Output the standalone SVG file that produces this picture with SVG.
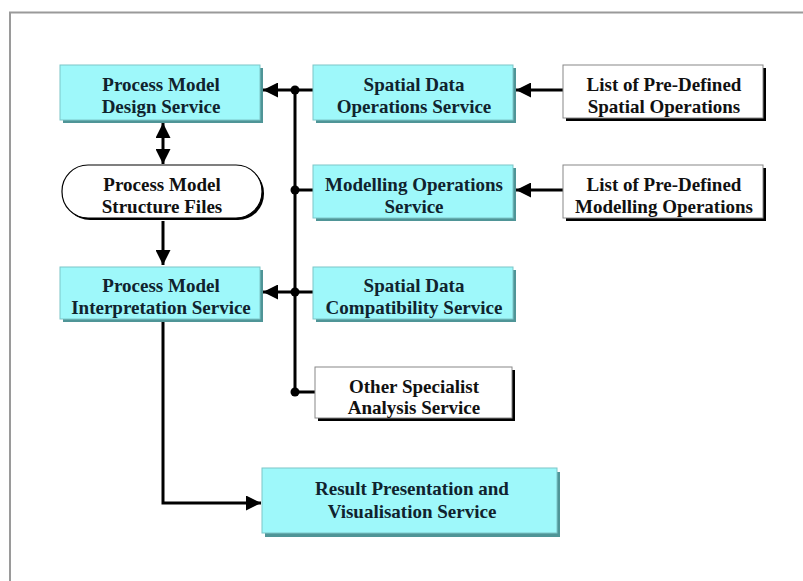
<svg xmlns="http://www.w3.org/2000/svg" width="803" height="581" viewBox="0 0 803 581">
  <defs>
    <marker id="arr" viewBox="0 0 10 10" refX="10" refY="5" markerWidth="5" markerHeight="5" orient="auto-start-reverse" markerUnits="strokeWidth">
      <path d="M0,0 L10,5 L0,10 Z" fill="#000"/>
    </marker>
  </defs>
  <style>
    .txt { font-family: "Liberation Serif", "Times New Roman", serif; font-weight: bold; font-size: 19px; text-anchor: middle; }
    .ctxt { fill: #10232e; }
    .wtxt { fill: #111; }
    .cbox { fill: #9ef8fa; stroke: #7cc6c8; stroke-width: 1; }
    .cshadow { fill: #4f9597; }
    .wbox { fill: #fff; stroke: #888; stroke-width: 1; }
    .wshadow { fill: #000; }
    .line { fill: none; stroke: #000; stroke-width: 3; }
    .dot { fill: #000; }
  </style>
  <rect x="0" y="0" width="803" height="581" fill="#fff"/>
  <path d="M10,581 L10,12.5 L803,12.5" fill="none" stroke="#9a9a9a" stroke-width="2"/>

  <g id="connectors">
    <line class="line" x1="295" y1="90" x2="295" y2="392"/>
    <line class="line" x1="313" y1="90" x2="263" y2="90" marker-end="url(#arr)"/>
    <circle class="dot" cx="295" cy="90" r="4.5"/>
    <line class="line" x1="313" y1="190" x2="295" y2="190"/>
    <circle class="dot" cx="295" cy="190" r="4.5"/>
    <line class="line" x1="313" y1="292" x2="263" y2="292" marker-end="url(#arr)"/>
    <circle class="dot" cx="295" cy="292" r="4.5"/>
    <line class="line" x1="315" y1="392" x2="295" y2="392"/>
    <circle class="dot" cx="295" cy="392" r="4.5"/>
    <line class="line" x1="163" y1="123" x2="163" y2="164" marker-start="url(#arr)" marker-end="url(#arr)"/>
    <line class="line" x1="163" y1="221" x2="163" y2="265" marker-end="url(#arr)"/>
    <polyline class="line" points="163,321 163,503 261,503" marker-end="url(#arr)"/>
    <line class="line" x1="563" y1="90" x2="516" y2="90" marker-end="url(#arr)"/>
    <line class="line" x1="563" y1="190" x2="516" y2="190" marker-end="url(#arr)"/>
  </g>

  <g id="design">
    <rect class="cshadow" x="63" y="68" width="200" height="55"/>
    <rect class="cbox" x="60" y="65" width="200" height="55"/>
    <text class="txt ctxt" x="161" y="91">Process Model</text>
    <text class="txt ctxt" x="161" y="113">Design Service</text>
  </g>

  <g id="structure">
    <rect x="64" y="167" width="200" height="53" rx="26" ry="26" fill="#000"/>
    <rect x="62" y="165" width="200" height="53" rx="26" ry="26" fill="#fff" stroke="#000" stroke-width="1.2"/>
    <text class="txt wtxt" x="162" y="191">Process Model</text>
    <text class="txt wtxt" x="162" y="213">Structure Files</text>
  </g>

  <g id="interpretation">
    <rect class="cshadow" x="63" y="270" width="200" height="52"/>
    <rect class="cbox" x="60" y="267" width="200" height="52"/>
    <text class="txt ctxt" x="161" y="292">Process Model</text>
    <text class="txt ctxt" x="161" y="314">Interpretation Service</text>
  </g>

  <g id="spatialops">
    <rect class="cshadow" x="316" y="68" width="200" height="55"/>
    <rect class="cbox" x="313" y="65" width="200" height="55"/>
    <text class="txt ctxt" x="414" y="91">Spatial Data</text>
    <text class="txt ctxt" x="414" y="113">Operations Service</text>
  </g>

  <g id="modellingops">
    <rect class="cshadow" x="316" y="168" width="200" height="53"/>
    <rect class="cbox" x="313" y="165" width="200" height="53"/>
    <text class="txt ctxt" x="414" y="191">Modelling Operations</text>
    <text class="txt ctxt" x="414" y="213">Service</text>
  </g>

  <g id="compatibility">
    <rect class="cshadow" x="316" y="270" width="200" height="52"/>
    <rect class="cbox" x="313" y="267" width="200" height="52"/>
    <text class="txt ctxt" x="414" y="292">Spatial Data</text>
    <text class="txt ctxt" x="414" y="314">Compatibility Service</text>
  </g>

  <g id="otherspecialist">
    <rect class="wshadow" x="318" y="370" width="197" height="51"/>
    <rect class="wbox" x="315" y="367" width="197" height="51"/>
    <text class="txt wtxt" x="414" y="393">Other Specialist</text>
    <text class="txt wtxt" x="414" y="414">Analysis Service</text>
  </g>

  <g id="listspatial">
    <rect class="wshadow" x="566" y="68" width="200" height="53"/>
    <rect class="wbox" x="563" y="65" width="200" height="53"/>
    <text class="txt wtxt" x="664" y="91">List of Pre-Defined</text>
    <text class="txt wtxt" x="664" y="113">Spatial Operations</text>
  </g>

  <g id="listmodelling">
    <rect class="wshadow" x="566" y="168" width="200" height="53"/>
    <rect class="wbox" x="563" y="165" width="200" height="53"/>
    <text class="txt wtxt" x="664" y="191">List of Pre-Defined</text>
    <text class="txt wtxt" x="664" y="213">Modelling Operations</text>
  </g>

  <g id="result">
    <rect class="cshadow" x="265" y="472" width="295" height="65"/>
    <rect class="cbox" x="262" y="468" width="295" height="65"/>
    <text class="txt ctxt" x="412" y="495">Result Presentation and</text>
    <text class="txt ctxt" x="412" y="518">Visualisation Service</text>
  </g>
</svg>
